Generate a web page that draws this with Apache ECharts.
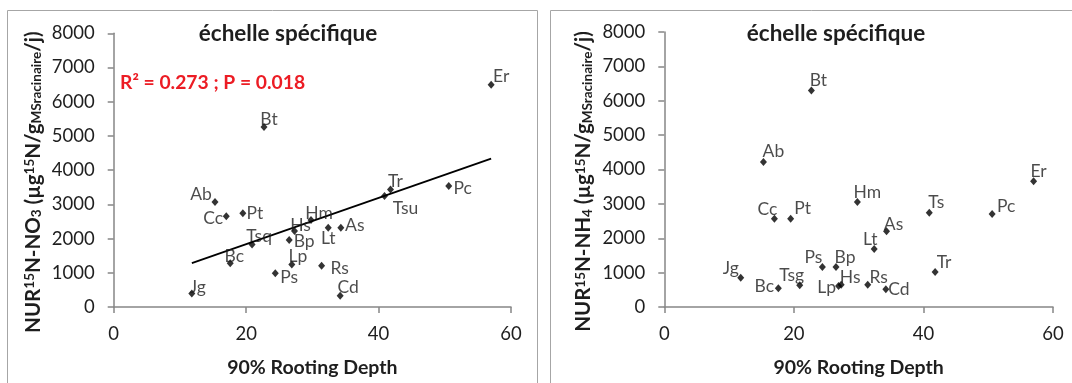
<!DOCTYPE html>
<html>
<head>
<meta charset="utf-8">
<script src="https://cdn.jsdelivr.net/npm/echarts@6/dist/echarts.min.js"></script>
<style>
  html, body { margin: 0; padding: 0; background: #fff; }
  #chart { width: 1072px; height: 383px; }
</style>
</head>
<body>
<div id="chart"></div>
<script>
// 90 % rooting depth per species (shared by both panels)
const depth = [15.3, 17.6, 26.5, 22.7, 17.0, 34.2, 57.0, 29.8, 27.3, 11.8, 26.9, 32.4, 34.3, 50.6, 24.4, 19.5, 31.4, 41.8, 20.9, 40.9];

// Nitrate uptake rate (µg 15N / g root DM / day)
const labelsNO3 = ['Ab', 'Bc', 'Bp', 'Bt', 'Cc', 'Cd', 'Er', 'Hm', 'Hs', 'Jg', 'Lp', 'Lt', 'As', 'Pc', 'Ps', 'Pt', 'Rs', 'Tr', 'Tsq', 'Tsu'];
const nurNO3 = [3066, 1281, 1960, 5262, 2650, 330, 6495, 2543, 2222, 398, 1243, 2320, 2320, 3534, 990, 2737, 1203, 3437, 1825, 3243];

// Ammonium uptake rate (µg 15N / g root DM / day)
const labelsNH4 = ['Ab', 'Bc', 'Bp', 'Bt', 'Cc', 'Cd', 'Er', 'Hm', 'Hs', 'Jg', 'Lp', 'Lt', 'As', 'Pc', 'Ps', 'Pt', 'Rs', 'Tr', 'Tsg', 'Ts'];
const nurNH4 = [4217, 543, 1161, 6296, 2565, 514, 3656, 3058, 650, 853, 610, 1684, 2206, 2708, 1161, 2565, 650, 1016, 630, 2740];

// Axis ticks
const xTicks = { min: 0, max: 60, interval: 20 };
const yTicks = { min: 0, max: 8000, interval: 1000 };

const panelTitle = 'échelle spécifique';
const xName = '90% Rooting Depth';
const statsNO3 = 'R² = 0.273 ; P = 0.018';

// Where each species code sits relative to its marker (px)
const labelOffsetNO3 = {
  Ab: [-14, -8], Bc: [4, -7], Bp: [15, 1], Bt: [5, -8], Cc: [-13, 2], Cd: [8, -8],
  Er: [10, -8], Hm: [8, -7], Hs: [6, -6], Jg: [6, -6], Lp: [6, -8], Lt: [0, 11],
  As: [14, -2], Pc: [14, 2], Ps: [14, 4], Pt: [12, 0], Rs: [18, 3], Tr: [5, -8],
  Tsq: [7, -8], Tsu: [21, 12]
};
const labelOffsetNH4 = {
  Ab: [10, -11], Bc: [-14, -2], Bp: [9, -10], Bt: [7, -10], Cc: [-7, -9], Cd: [13, 0],
  Er: [5, -10], Hm: [10, -10], Hs: [9, -7], Jg: [-10, -9], Lp: [-12, 1], Lt: [-4, -10],
  As: [7, -7], Pc: [14, -8], Ps: [-9, -10], Pt: [12, -10], Rs: [11, -7], Tr: [9, -10],
  Tsg: [-8, -10], Ts: [7, -10]
};

// Least-squares fit of NO3 uptake against rooting depth
function linearFit(xs, ys) {
  const n = xs.length;
  const mx = xs.reduce((a, b) => a + b, 0) / n;
  const my = ys.reduce((a, b) => a + b, 0) / n;
  let sxy = 0, sxx = 0;
  for (let i = 0; i < n; i++) {
    sxy += (xs[i] - mx) * (ys[i] - my);
    sxx += (xs[i] - mx) * (xs[i] - mx);
  }
  const slope = sxy / sxx;
  return { slope, intercept: my - slope * mx };
}
const fit = linearFit(depth, nurNO3);
const xLo = Math.min(...depth), xHi = Math.max(...depth);
const trendNO3 = [[xLo, fit.intercept + fit.slope * xLo], [xHi, fit.intercept + fit.slope * xHi]];

const FONT = 'Lato, "Open Sans", sans-serif';
const TEXT = '#1e1e1e';
const AXIS = '#868686';

function points(names, ys, offsets) {
  return names.map((n, i) => ({
    value: [depth[i], ys[i]],
    name: n,
    label: { offset: offsets[n] }
  }));
}

function xAxis(gridIndex) {
  return {
    type: 'value', gridIndex,
    min: xTicks.min, max: xTicks.max, interval: xTicks.interval,
    name: xName, nameLocation: 'middle', nameGap: 51,
    nameTextStyle: { fontFamily: FONT, fontSize: 19.5, fontWeight: 'bold', color: TEXT },
    axisLine: { show: true, onZero: false, lineStyle: { color: AXIS, width: 1.5 } },
    axisTick: { show: true, length: 6, lineStyle: { color: AXIS, width: 1.5 } },
    axisLabel: { margin: 18, fontFamily: FONT, fontSize: 18.5, color: TEXT, formatter: v => String(v) },
    splitLine: { show: false }
  };
}

const richName = {
  b: { fontFamily: FONT, fontSize: 20.5, fontWeight: 'bold', color: TEXT },
  sup: { fontFamily: FONT, fontSize: 13.5, fontWeight: 'bold', color: TEXT, verticalAlign: 'top' },
  sub: { fontFamily: FONT, fontSize: 13.5, fontWeight: 'bold', color: TEXT, verticalAlign: 'bottom' }
};

function yAxis(gridIndex, ion) {
  return {
    type: 'value', gridIndex,
    min: yTicks.min, max: yTicks.max, interval: yTicks.interval,
    name: '{b|NUR}{sup|15}{b|N-' + ion[0] + '}{sub|' + ion[1] + '}{b| (µg}{sup|15}{b|N/g}{sub|MSracinaire}{b|/j)}',
    nameLocation: 'middle', nameRotate: 90, nameGap: 70,
    nameTextStyle: { rich: richName, padding: [0, 24, 0, 0] },
    axisLine: { show: true, onZero: false, lineStyle: { color: AXIS, width: 1.5 } },
    axisTick: { show: true, length: 6, lineStyle: { color: AXIS, width: 1.5 } },
    axisLabel: { margin: 19, fontFamily: FONT, fontSize: 18.5, color: TEXT, formatter: v => String(v) },
    splitLine: { show: false }
  };
}

function scatter(idx, names, ys, offsets) {
  return {
    type: 'scatter', xAxisIndex: idx, yAxisIndex: idx,
    symbol: 'diamond', symbolSize: [7, 8],
    itemStyle: { color: '#000' },
    data: points(names, ys, offsets),
    label: {
      show: true, position: 'inside', formatter: '{b}',
      fontFamily: FONT, fontSize: 17.5, color: TEXT
    },
    z: 3
  };
}

const chart = echarts.init(document.getElementById('chart'), null, { renderer: 'canvas' });
chart.setOption({
  animation: false,
  backgroundColor: '#fff',
  title: [
    { text: panelTitle, left: 283, top: 17, textAlign: 'center',
      textStyle: { fontFamily: FONT, fontSize: 22.5, fontWeight: 'bold', color: TEXT } },
    { text: panelTitle, left: 831, top: 17, textAlign: 'center',
      textStyle: { fontFamily: FONT, fontSize: 22.5, fontWeight: 'bold', color: TEXT } }
  ],
  graphic: [
    { type: 'rect', shape: { x: 7.5, y: 10.5, width: 530, height: 400 }, silent: true,
      style: { fill: 'none', stroke: '#a6a6a6', lineWidth: 1 }, z: -1 },
    { type: 'rect', shape: { x: 550.5, y: 10.5, width: 530, height: 400 }, silent: true,
      style: { fill: 'none', stroke: '#a6a6a6', lineWidth: 1 }, z: -1 },
    { type: 'text', x: 120, y: 83, silent: true,
      style: { text: statsNO3, fontFamily: FONT, fontSize: 19.3, fontWeight: 'bold',
        fill: '#ec1c24', verticalAlign: 'middle' } }
  ],
  grid: [
    { left: 113.7, top: 33.3, width: 397.3, height: 274.7 },
    { left: 664.3, top: 32, width: 388.7, height: 275.7 }
  ],
  xAxis: [xAxis(0), xAxis(1)],
  yAxis: [yAxis(0, ['NO', '3']), yAxis(1, ['NH', '4'])],
  series: [
    {
      type: 'line', xAxisIndex: 0, yAxisIndex: 0,
      data: trendNO3, symbol: 'none', silent: true,
      lineStyle: { color: '#000', width: 1.8 }, z: 2
    },
    scatter(0, labelsNO3, nurNO3, labelOffsetNO3),
    scatter(1, labelsNH4, nurNH4, labelOffsetNH4)
  ]
});
</script>
</body>
</html>
